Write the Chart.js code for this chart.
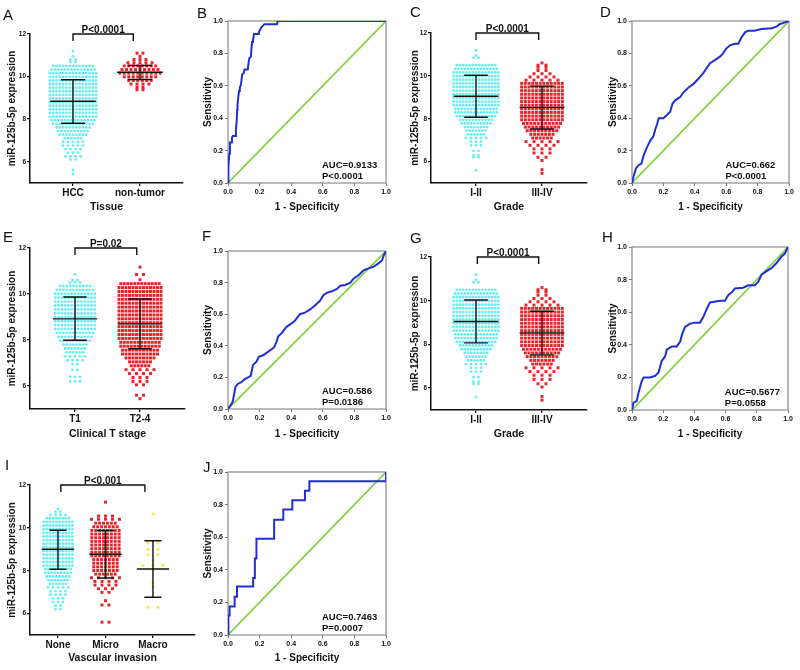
<!DOCTYPE html>
<html><head><meta charset="utf-8">
<script src="https://cdn.jsdelivr.net/npm/chart.js@4.4.1/dist/chart.umd.min.js"></script>
<style>
html,body{margin:0;padding:0;background:#fff;width:800px;height:670px;overflow:hidden;}
canvas{position:absolute;}
</style></head><body>
<canvas id="cA" width="195" height="215" style="left:0px;top:0px"></canvas>
<canvas id="cB" width="200" height="215" style="left:195px;top:0px"></canvas>
<canvas id="cC" width="205" height="215" style="left:390px;top:0px"></canvas>
<canvas id="cD" width="205" height="215" style="left:595px;top:0px"></canvas>
<canvas id="cE" width="195" height="227" style="left:0px;top:215px"></canvas>
<canvas id="cF" width="200" height="227" style="left:195px;top:215px"></canvas>
<canvas id="cG" width="205" height="227" style="left:390px;top:215px"></canvas>
<canvas id="cH" width="205" height="227" style="left:595px;top:215px"></canvas>
<canvas id="cI" width="200" height="221" style="left:0px;top:445px"></canvas>
<canvas id="cJ" width="200" height="221" style="left:195px;top:445px"></canvas>
<script>
// ---------------- DATA ----------------
const yTicksExpr = [6, 8, 10, 12];
const rocTicks = [0, 0.2, 0.4, 0.6, 0.8, 1.0];
const diagX = [0, 1];
const diagY = [0, 1];

// Panel A : Tissue
const A_categories = ['HCC', 'non-tumor'];
const A_hcc_levels = [11.2, 10.95, 10.8, 10.68, 10.5, 10.33, 10.16, 9.99, 9.82, 9.65, 9.48, 9.31, 9.14, 8.97, 8.8, 8.63, 8.46, 8.29, 8.12, 7.95, 7.78, 7.61, 7.44, 7.27, 7.1, 6.93, 6.76, 6.59, 6.42, 6.25, 6.1, 5.6, 5.42];
const A_hcc_counts = [1, 1, 2, 2, 13, 14, 15, 15, 15, 15, 15, 15, 15, 15, 15, 15, 15, 15, 15, 14, 13, 11, 10, 9, 6, 5, 5, 4, 3, 4, 2, 1, 1];
const A_nt_levels = [11.1, 10.95, 10.8, 10.65, 10.5, 10.33, 10.16, 9.99, 9.82, 9.65, 9.5, 9.38];
const A_nt_counts = [2, 1, 3, 5, 8, 9, 10, 8, 6, 4, 2, 2];
const A_mean = [8.84, 10.2];
const A_sdHigh = [9.85, 10.52];
const A_sdLow = [7.81, 9.86];

// Panel C (and G) : Grade
const C_categories = ['I-II', 'III-IV'];
const C_low_levels = [11.2, 10.95, 10.85, 10.5, 10.33, 10.16, 9.99, 9.82, 9.65, 9.48, 9.31, 9.14, 8.97, 8.8, 8.63, 8.46, 8.29, 8.12, 7.95, 7.78, 7.61, 7.44, 7.27, 7.1, 6.93, 6.76, 6.5, 6.3, 6.2, 5.6];
const C_low_counts = [1, 1, 2, 13, 14, 15, 15, 15, 15, 15, 15, 15, 15, 15, 15, 14, 14, 13, 11, 10, 8, 7, 6, 5, 3, 3, 2, 2, 2, 1];
const C_high_levels = [10.6, 10.5, 10.4, 10.25, 10.1, 9.95, 9.8, 9.65, 9.48, 9.31, 9.14, 8.97, 8.8, 8.63, 8.46, 8.29, 8.12, 7.95, 7.78, 7.61, 7.44, 7.27, 7.1, 6.93, 6.76, 6.59, 6.4, 6.2, 6.05, 5.62, 5.45];
const C_high_counts = [1, 2, 2, 2, 3, 4, 5, 12, 12, 12, 12, 12, 12, 12, 12, 12, 12, 12, 11, 10, 9, 7, 6, 5, 4, 3, 3, 2, 1, 1, 1];
const C_mean = [9.05, 8.53];
const C_sdHigh = [10.03, 9.52];
const C_sdLow = [8.07, 7.52];

// Panel E : Clinical T stage
const E_categories = ['T1', 'T2-4'];
const E_t1_levels = [10.85, 10.6, 10.5, 10.35, 10.18, 10.01, 9.84, 9.67, 9.5, 9.33, 9.16, 8.99, 8.82, 8.65, 8.48, 8.31, 8.14, 7.97, 7.8, 7.63, 7.46, 7.29, 7.12, 6.95, 6.7, 6.4, 6.2];
const E_t1_counts = [1, 2, 3, 10, 12, 13, 13, 13, 13, 13, 13, 13, 13, 13, 13, 12, 11, 10, 8, 7, 6, 5, 4, 2, 2, 3, 3];
const E_t24_levels = [11.17, 10.85, 10.62, 10.45, 10.28, 10.11, 9.94, 9.77, 9.6, 9.43, 9.26, 9.09, 8.92, 8.75, 8.58, 8.41, 8.24, 8.07, 7.9, 7.73, 7.56, 7.39, 7.22, 7.05, 6.88, 6.71, 6.54, 6.37, 6.2, 6.05, 5.6, 5.45];
const E_t24_counts = [1, 2, 1, 12, 13, 13, 13, 13, 13, 13, 13, 13, 13, 13, 13, 13, 13, 13, 12, 12, 11, 11, 9, 7, 6, 5, 4, 3, 3, 2, 2, 1];
const E_mean = [8.92, 8.7];
const E_sdHigh = [9.87, 9.78];
const E_sdLow = [7.99, 7.62];

// Panel I : Vascular invasion
const I_categories = ['None', 'Micro', 'Macro'];
const I_none_levels = [10.88, 10.75, 10.6, 10.45, 10.28, 10.11, 9.94, 9.77, 9.6, 9.43, 9.26, 9.09, 8.92, 8.75, 8.58, 8.41, 8.24, 8.07, 7.9, 7.73, 7.56, 7.39, 7.22, 7.05, 6.88, 6.71, 6.54, 6.37, 6.2];
const I_none_counts = [1, 2, 4, 8, 10, 10, 10, 10, 10, 10, 10, 10, 10, 10, 10, 10, 10, 9, 9, 8, 7, 6, 5, 4, 4, 3, 3, 2, 2];
const I_micro_levels = [11.2, 10.55, 10.4, 10.22, 10.05, 9.88, 9.71, 9.54, 9.37, 9.2, 9.03, 8.86, 8.69, 8.52, 8.35, 8.18, 8.01, 7.84, 7.67, 7.5, 7.33, 7.16, 6.99, 6.6, 6.4, 5.6];
const I_micro_counts = [1, 3, 5, 6, 7, 8, 8, 8, 8, 8, 8, 8, 8, 7, 7, 7, 7, 6, 5, 4, 4, 3, 2, 1, 2, 2];
const I_macro_levels = [10.65, 9.3, 9.0, 8.75, 8.5, 8.25, 8.05, 7.45, 7.25, 6.3];
const I_macro_counts = [1, 2, 2, 2, 1, 3, 1, 1, 1, 2];
const I_mean = [9.0, 8.77, 8.08];
const I_sdHigh = [9.89, 9.88, 9.4];
const I_sdLow = [8.07, 7.66, 6.76];

// ROC curves (1 - specificity, sensitivity)
const B_fpr = [0, 0, 0.005, 0.008, 0.012, 0.012, 0.025, 0.025, 0.03, 0.05, 0.05, 0.055, 0.058, 0.06, 0.065, 0.07, 0.075, 0.08, 0.085, 0.09, 0.1, 0.105, 0.125, 0.13, 0.135, 0.145, 0.148, 0.152, 0.158, 0.165, 0.19, 0.195, 0.2, 0.21, 0.22, 0.23, 0.31, 0.315, 1];
const B_tpr = [0, 0.04, 0.1, 0.18, 0.22, 0.25, 0.25, 0.28, 0.29, 0.29, 0.33, 0.38, 0.45, 0.48, 0.53, 0.57, 0.59, 0.6, 0.63, 0.67, 0.68, 0.7, 0.7, 0.74, 0.77, 0.78, 0.82, 0.87, 0.88, 0.92, 0.92, 0.93, 0.94, 0.96, 0.97, 0.98, 0.98, 1.0, 1.0];
const D_fpr = [0, 0.01, 0.025, 0.042, 0.06, 0.074, 0.095, 0.116, 0.137, 0.148, 0.159, 0.17, 0.2, 0.222, 0.243, 0.258, 0.275, 0.307, 0.328, 0.36, 0.39, 0.42, 0.455, 0.476, 0.497, 0.53, 0.56, 0.58, 0.6, 0.624, 0.655, 0.677, 0.698, 0.72, 0.74, 0.78, 0.825, 0.89, 0.92, 0.94, 0.97, 1];
const D_tpr = [0, 0.04, 0.09, 0.11, 0.12, 0.17, 0.22, 0.26, 0.29, 0.33, 0.36, 0.4, 0.4, 0.42, 0.44, 0.49, 0.51, 0.53, 0.56, 0.59, 0.61, 0.64, 0.68, 0.71, 0.74, 0.76, 0.78, 0.8, 0.83, 0.85, 0.86, 0.86, 0.9, 0.93, 0.94, 0.94, 0.95, 0.955, 0.965, 0.98, 0.99, 1];
const F_fpr = [0, 0.017, 0.03, 0.042, 0.047, 0.064, 0.085, 0.106, 0.127, 0.144, 0.159, 0.18, 0.195, 0.222, 0.244, 0.265, 0.292, 0.307, 0.318, 0.34, 0.37, 0.4, 0.424, 0.455, 0.487, 0.52, 0.55, 0.583, 0.604, 0.625, 0.657, 0.69, 0.71, 0.742, 0.775, 0.794, 0.826, 0.858, 0.89, 0.92, 0.95, 0.975, 0.985, 1];
const F_tpr = [0, 0.025, 0.046, 0.11, 0.14, 0.16, 0.17, 0.19, 0.2, 0.21, 0.28, 0.3, 0.33, 0.34, 0.355, 0.37, 0.39, 0.425, 0.46, 0.48, 0.52, 0.54, 0.56, 0.6, 0.61, 0.63, 0.655, 0.686, 0.72, 0.735, 0.745, 0.76, 0.78, 0.785, 0.8, 0.825, 0.846, 0.878, 0.89, 0.9, 0.92, 0.94, 0.97, 1];
const H_fpr = [0, 0.01, 0.03, 0.043, 0.06, 0.074, 0.117, 0.149, 0.17, 0.19, 0.213, 0.223, 0.255, 0.287, 0.309, 0.323, 0.34, 0.372, 0.404, 0.436, 0.457, 0.479, 0.5, 0.564, 0.596, 0.617, 0.638, 0.66, 0.713, 0.745, 0.787, 0.81, 0.83, 0.86, 0.894, 0.925, 0.957, 0.98, 1];
const H_tpr = [0, 0.045, 0.055, 0.11, 0.17, 0.2, 0.2, 0.21, 0.23, 0.3, 0.33, 0.37, 0.39, 0.39, 0.42, 0.47, 0.51, 0.53, 0.536, 0.536, 0.57, 0.62, 0.66, 0.67, 0.67, 0.705, 0.72, 0.745, 0.75, 0.765, 0.765, 0.787, 0.83, 0.85, 0.87, 0.9, 0.94, 0.96, 1];
const J_fpr = [0, 0, 0.005, 0.01, 0.01, 0.042, 0.042, 0.057, 0.057, 0.159, 0.159, 0.17, 0.17, 0.18, 0.18, 0.292, 0.292, 0.35, 0.35, 0.407, 0.407, 0.487, 0.487, 0.515, 0.515, 1, 1];
const J_tpr = [0, 0.06, 0.12, 0.12, 0.175, 0.175, 0.235, 0.235, 0.297, 0.297, 0.35, 0.35, 0.47, 0.47, 0.59, 0.59, 0.707, 0.707, 0.77, 0.77, 0.826, 0.826, 0.885, 0.885, 0.943, 0.943, 1];

// ---------------- STYLE / HELPERS ----------------
const FONT = '"Liberation Sans", Arial, Helvetica, sans-serif';
const INK = '#111111';
const CYAN = '#66eef2';
const RED = '#e3262b';
const YELLOW = '#f2ec55';
Chart.defaults.font.family = FONT;
Chart.defaults.color = INK;

// beeswarm layout: each row of equal values is spread horizontally around its category
function swarm(levels, counts, cat, spacingUnits, sparseUnits) {
  const pts = [];
  levels.forEach((y, r) => {
    const n = counts[r];
    const sp = n <= 5 ? sparseUnits : spacingUnits;
    for (let i = 0; i < n; i++) pts.push({x: cat + (i - (n - 1) / 2) * sp, y: y});
  });
  return pts;
}
function errorBars(means, hi, lo) {
  const d = [];
  means.forEach((m, i) => {
    const c = i + 1;
    d.push({x: c - 0.34, y: m}, {x: c + 0.34, y: m}, {x: c, y: null});
    d.push({x: c - 0.18, y: hi[i]}, {x: c + 0.18, y: hi[i]}, {x: c, y: null});
    d.push({x: c - 0.18, y: lo[i]}, {x: c + 0.18, y: lo[i]}, {x: c, y: null});
    d.push({x: c, y: lo[i]}, {x: c, y: hi[i]}, {x: c, y: null});
  });
  return d;
}
function zip(xs, ys) { return xs.map((x, i) => ({x: x, y: ys[i]})); }

const annot = {
  id: 'annot',
  beforeDatasetsDraw(chart, args, o) {
    if (!o.box) return;
    const ca = chart.chartArea, ctx = chart.ctx;
    ctx.save();
    ctx.strokeStyle = '#8c8c8c';
    ctx.lineWidth = 1.2;
    ctx.strokeRect(ca.left, ca.top, ca.right - ca.left, ca.bottom - ca.top);
    ctx.restore();
  },
  afterDraw(chart, args, o) {
    const ctx = chart.ctx, ca = chart.chartArea;
    ctx.save();
    ctx.fillStyle = INK;
    ctx.font = '15px ' + FONT;
    ctx.textAlign = 'left';
    ctx.textBaseline = 'alphabetic';
    ctx.fillText(o.letter, o.lx, o.ly);
    if (o.bracket) {
      const xs = chart.scales.x, ys = chart.scales.y;
      const x1 = xs.getPixelForValue(o.bracket[0]), x2 = xs.getPixelForValue(o.bracket[1]);
      const yt = ys.getPixelForValue(12);
      ctx.strokeStyle = INK;
      ctx.lineWidth = 1.4;
      ctx.beginPath();
      ctx.moveTo(x1, yt + 7); ctx.lineTo(x1, yt); ctx.lineTo(x2, yt); ctx.lineTo(x2, yt + 7);
      ctx.stroke();
      ctx.font = 'bold 10px ' + FONT;
      ctx.textAlign = 'center';
      ctx.fillText(o.ptext, (x1 + x2) / 2, yt - 1);
    }
    if (o.auc) {
      ctx.font = 'bold 9.5px ' + FONT;
      ctx.textAlign = 'left';
      ctx.textBaseline = 'middle';
      const x = ca.left + 0.595 * (ca.right - ca.left);
      ctx.fillText(o.auc, x, ca.bottom - 17.5);
      ctx.fillText(o.p, x, ca.bottom - 6.5);
    }
    ctx.restore();
  }
};

function dotPlot(id, L, cats, xTitle, groups, means, hi, lo, ann) {
  const plotW = L.w - L.padL - L.axisW - L.padR;
  const unitPerPx = (L.xmax - L.xmin) / plotW;
  const datasets = [{
    data: errorBars(means, hi, lo), showLine: true, borderColor: INK, borderWidth: 1.4,
    pointRadius: 0, spanGaps: false, order: 0
  }];
  groups.forEach((g, i) => {
    datasets.push({
      data: swarm(g.levels, g.counts, i + 1, g.spacing * unitPerPx, g.sparse * unitPerPx),
      showLine: false, pointStyle: g.style, pointRadius: g.r,
      backgroundColor: g.color, borderColor: g.color, pointBorderWidth: 0, borderWidth: 0, order: 1
    });
  });
  return new Chart(document.getElementById(id), {
    type: 'scatter',
    data: {datasets: datasets},
    plugins: [annot],
    options: {
      responsive: false, animation: false, devicePixelRatio: 1,
      layout: {padding: {left: L.padL, top: L.padT, right: L.padR, bottom: 0}},
      plugins: {legend: {display: false}, tooltip: {enabled: false}, annot: ann},
      scales: {
        x: {
          type: 'linear', min: L.xmin, max: L.xmax,
          afterBuildTicks: s => { s.ticks = cats.map((c, i) => ({value: i + 1})); },
          afterFit: s => { s.height = L.xAxisH; },
          ticks: {callback: v => cats[Math.round(v) - 1], font: {size: 10, weight: 'bold'}, color: INK, padding: 1, autoSkip: false, maxRotation: 0},
          grid: {display: true, drawOnChartArea: false, drawTicks: true, tickLength: 3, color: INK, lineWidth: 1.3},
          border: {display: true, color: INK, width: 1.5},
          title: {display: true, text: xTitle, font: {size: 10.5, weight: 'bold'}, color: INK, padding: {top: 0, bottom: 2}}
        },
        y: {
          type: 'linear', min: 5, max: 12,
          afterBuildTicks: s => { s.ticks = yTicksExpr.map(v => ({value: v})); },
          afterFit: s => { s.width = L.axisW; },
          ticks: {font: {size: 6.5, weight: 'bold'}, color: INK, padding: 1},
          grid: {display: true, drawOnChartArea: false, drawTicks: true, tickLength: 3, color: INK, lineWidth: 1.3},
          border: {display: true, color: INK, width: 1.5},
          title: {display: true, text: 'miR-125b-5p expression', font: {size: 10, weight: 'bold'}, color: INK, padding: {top: 5, bottom: 0}}
        }
      }
    }
  });
}

function rocPlot(id, L, fpr, tpr, ann) {
  const tickOpts = {font: {size: 7, weight: 'bold'}, color: INK, padding: 2, autoSkip: false, maxRotation: 0, callback: v => Number(v).toFixed(1)};
  return new Chart(document.getElementById(id), {
    type: 'scatter',
    data: {datasets: [
      {data: zip(fpr, tpr), showLine: true, borderColor: '#1f2fd4', borderWidth: 2, pointRadius: 0, order: 0},
      {data: zip(diagX, diagY), showLine: true, borderColor: '#7fd13b', borderWidth: 1.6, pointRadius: 0, order: 1}
    ]},
    plugins: [annot],
    options: {
      responsive: false, animation: false, devicePixelRatio: 1,
      layout: {padding: {left: L.padL, top: L.padT, right: L.padR, bottom: 0}},
      plugins: {legend: {display: false}, tooltip: {enabled: false}, annot: Object.assign({box: true}, ann)},
      scales: {
        x: {
          type: 'linear', min: 0, max: 1,
          afterBuildTicks: s => { s.ticks = rocTicks.map(v => ({value: v})); },
          afterFit: s => { s.height = L.xAxisH; },
          ticks: tickOpts,
          grid: {display: true, drawOnChartArea: false, drawTicks: true, tickLength: 3, color: '#777', lineWidth: 1},
          border: {display: false},
          title: {display: true, text: '1 - Specificity', font: {size: 10, weight: 'bold'}, color: INK, padding: {top: 0, bottom: 2}}
        },
        y: {
          type: 'linear', min: 0, max: 1,
          afterBuildTicks: s => { s.ticks = rocTicks.map(v => ({value: v})); },
          afterFit: s => { s.width = L.axisW; },
          ticks: tickOpts,
          grid: {display: true, drawOnChartArea: false, drawTicks: true, tickLength: 3, color: '#777', lineWidth: 1},
          border: {display: false},
          title: {display: true, text: 'Sensitivity', font: {size: 10, weight: 'bold'}, color: INK, padding: {top: 5, bottom: 0}}
        }
      }
    }
  });
}

// ---------------- PANELS ----------------
dotPlot('cA', {w: 195, padL: 1, axisW: 29, padR: 12, padT: 34, xAxisH: 32, xmin: 0.358, xmax: 2.642},
  A_categories, 'Tissue',
  [{levels: A_hcc_levels, counts: A_hcc_counts, color: CYAN, style: 'circle', r: 1.4, spacing: 3.3, sparse: 5},
   {levels: A_nt_levels, counts: A_nt_counts, color: RED, style: 'rect', r: 2.1, spacing: 4.5, sparse: 6}],
  A_mean, A_sdHigh, A_sdLow, {letter: 'A', lx: 3, ly: 20, bracket: [1, 1.9], ptext: 'P<0.0001'});

rocPlot('cB', {padL: 2, axisW: 31, padR: 9, padT: 21, xAxisH: 32}, B_fpr, B_tpr,
  {letter: 'B', lx: 2, ly: 18, auc: 'AUC=0.9133', p: 'P<0.0001'});

dotPlot('cC', {w: 205, padL: 14, axisW: 27, padR: 8, padT: 33, xAxisH: 32, xmin: 0.318, xmax: 2.682},
  C_categories, 'Grade',
  [{levels: C_low_levels, counts: C_low_counts, color: CYAN, style: 'circle', r: 1.4, spacing: 3.2, sparse: 5},
   {levels: C_high_levels, counts: C_high_counts, color: RED, style: 'rect', r: 2.1, spacing: 3.7, sparse: 8}],
  C_mean, C_sdHigh, C_sdLow, {letter: 'C', lx: 20, ly: 17, bracket: [1, 1.95], ptext: 'P<0.0001'});

rocPlot('cD', {padL: 7, axisW: 30, padR: 11, padT: 21, xAxisH: 32}, D_fpr, D_tpr,
  {letter: 'D', lx: 5, ly: 17, auc: 'AUC=0.662', p: 'P<0.0001'});

dotPlot('cE', {w: 195, padL: 1, axisW: 29, padR: 10, padT: 33, xAxisH: 33, xmin: 0.3077, xmax: 2.692},
  E_categories, 'Clinical T stage',
  [{levels: E_t1_levels, counts: E_t1_counts, color: CYAN, style: 'circle', r: 1.4, spacing: 3.3, sparse: 5},
   {levels: E_t24_levels, counts: E_t24_counts, color: RED, style: 'rect', r: 2.1, spacing: 3.5, sparse: 7}],
  E_mean, E_sdHigh, E_sdLow, {letter: 'E', lx: 3, ly: 27, bracket: [1, 1.95], ptext: 'P=0.02'});

rocPlot('cF', {padL: 2, axisW: 31, padR: 9, padT: 36, xAxisH: 33}, F_fpr, F_tpr,
  {letter: 'F', lx: 7, ly: 26, auc: 'AUC=0.586', p: 'P=0.0186'});

dotPlot('cG', {w: 205, padL: 14, axisW: 27, padR: 8, padT: 42, xAxisH: 32, xmin: 0.318, xmax: 2.682},
  C_categories, 'Grade',
  [{levels: C_low_levels, counts: C_low_counts, color: CYAN, style: 'circle', r: 1.4, spacing: 3.2, sparse: 5},
   {levels: C_high_levels, counts: C_high_counts, color: RED, style: 'rect', r: 2.1, spacing: 3.7, sparse: 8}],
  C_mean, C_sdHigh, C_sdLow, {letter: 'G', lx: 20, ly: 28, bracket: [1.02, 1.95], ptext: 'P<0.0001'});

rocPlot('cH', {padL: 7, axisW: 30, padR: 12, padT: 32, xAxisH: 32}, H_fpr, H_tpr,
  {letter: 'H', lx: 7, ly: 27, auc: 'AUC=0.5677', p: 'P=0.0558'});

dotPlot('cI', {w: 200, padL: 1, axisW: 29, padR: 5, padT: 40, xAxisH: 31, xmin: 0.411, xmax: 3.885},
  I_categories, 'Vascular invasion',
  [{levels: I_none_levels, counts: I_none_counts, color: CYAN, style: 'circle', r: 1.4, spacing: 3.2, sparse: 5},
   {levels: I_micro_levels, counts: I_micro_counts, color: RED, style: 'rect', r: 2.1, spacing: 3.9, sparse: 7},
   {levels: I_macro_levels, counts: I_macro_counts, color: YELLOW, style: 'circle', r: 1.6, spacing: 10, sparse: 10}],
  I_mean, I_sdHigh, I_sdLow, {letter: 'I', lx: 5, ly: 25, bracket: [1.06, 2.83], ptext: 'P<0.001'});

rocPlot('cJ', {padL: 2, axisW: 31, padR: 9, padT: 27, xAxisH: 31}, J_fpr, J_tpr,
  {letter: 'J', lx: 8, ly: 27, auc: 'AUC=0.7463', p: 'P=0.0007'});
</script>
</body></html>
